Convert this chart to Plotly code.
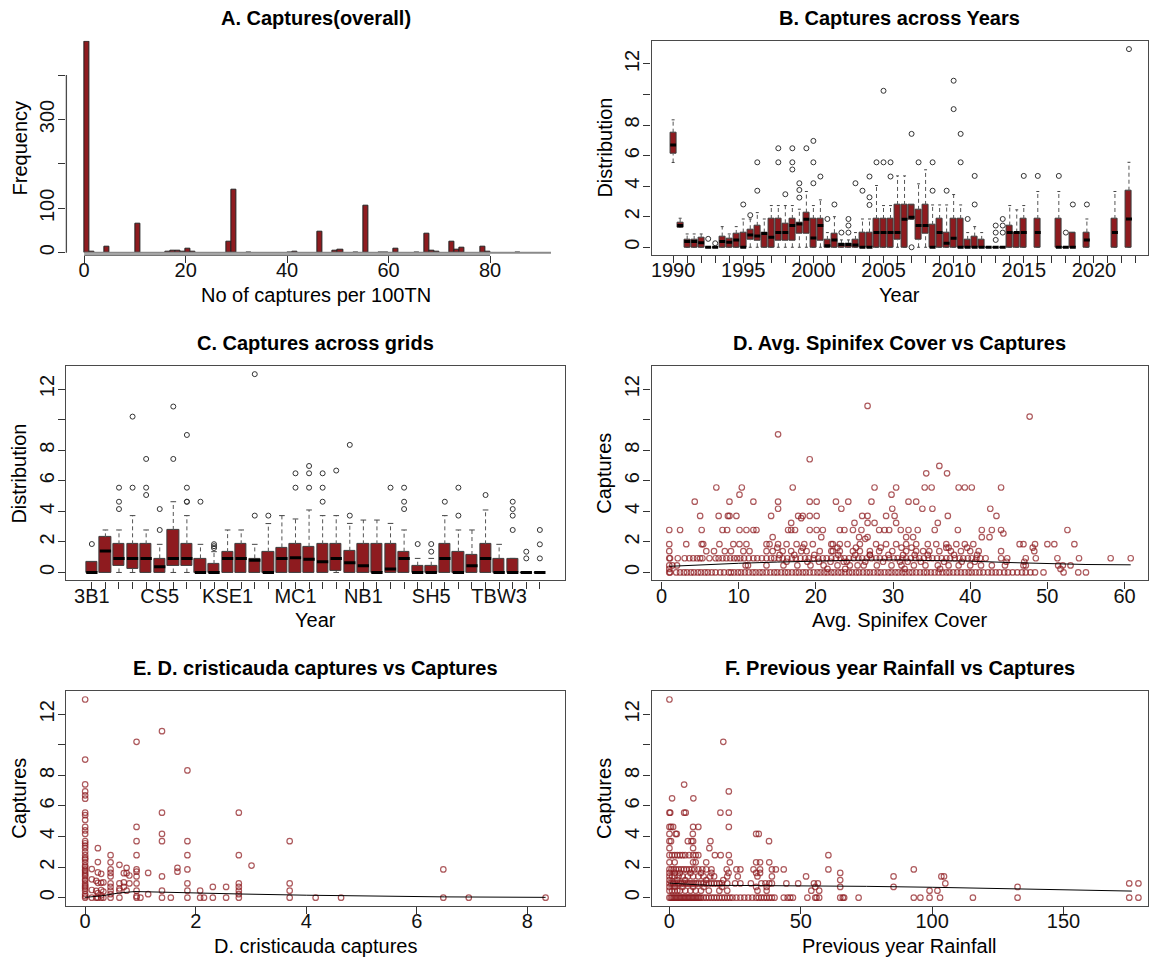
import plotly.graph_objects as go

# ---------------------------------------------------------------- data ----
# A. histogram of captures per 100 trap nights (bins of width 1 from 0 to 92)
hist_bin_left = [0, 1, 4, 10, 16, 17, 18, 19, 20, 21, 28, 29, 32, 40, 41, 46, 49, 50,
                 53, 55, 58, 59, 61, 65, 67, 68, 69, 72, 73, 74, 78, 79, 85]
hist_counts = [476, 2, 13, 65, 2, 4, 5, 2, 9, 2, 24, 141, 1, 1, 3, 47, 5, 6,
               1, 106, 1, 1, 10, 1, 42, 5, 2, 24, 6, 11, 13, 2, 1]
hist_span = [0, 92]
hist_xticks = [0, 20, 40, 60, 80]
hist_yticks = [0, 100, 200, 300, 400]
hist_ylabels = ["0", "100", "", "300", ""]

# B. captures per survey session (box statistics + outliers)
yr_pos = [1990.0, 1990.5, 1991.0, 1991.5, 1992.0, 1992.5, 1993.0, 1993.5, 1994.0, 1994.5,
          1995.0, 1995.5, 1996.0, 1996.5, 1997.0, 1997.5, 1998.0, 1998.5, 1999.0, 1999.5,
          2000.0, 2000.5, 2001.0, 2001.5, 2002.0, 2002.5, 2003.0, 2003.5, 2004.0, 2004.5,
          2005.0, 2005.5, 2006.0, 2006.5, 2007.0, 2007.5, 2008.0, 2008.5, 2009.0, 2009.5,
          2010.0, 2010.5, 2011.0, 2011.5, 2012.0, 2012.5, 2013.0, 2013.5, 2014.0, 2014.5,
          2015.0, 2016.0, 2017.5, 2018.0, 2018.5, 2019.5, 2021.5, 2022.5]
yr_q1 = [6.1, 1.3, 0, 0, 0, 0, 0, 0, 0, 0,
         0, 0.48, 0.44, 0, 0, 0.44, 0.44, 0.44, 0.92, 0.92,
         0, 0.44, 0, 0, 0, 0, 0, 0, 0, 0,
         0, 0, 0.48, 0, 1.83, 0.48, 0.92, 0, 0, 0,
         0, 0, 0, 0, 0, 0, 0, 0, 0, 0,
         0, 0, 0, 0, 0, 0, 0, 0]
yr_med = [6.7, 1.42, 0.37, 0.37, 0.3, 0, 0, 0.37, 0.33, 0.48,
          0, 0.8, 0.74, 0.9, 0.65, 0.96, 0.96, 1.42, 1.53, 1.83,
          0.6, 1.42, 0.1, 0.48, 0.18, 0.18, 0.15, 0, 0, 0.96,
          0.96, 0.96, 0.96, 1.83, 1.96, 1.42, 1.42, 0, 0.96, 0.26,
          0.59, 0, 0, 0, 0, 0, 0, 0, 0.96, 0.96,
          0.96, 0.96, 0, 0, 0, 0.48, 0.96, 1.85]
yr_q3 = [7.5, 1.6, 0.5, 0.48, 0.6, 0, 0, 0.7, 0.55, 0.87,
         0.96, 1.18, 1.4, 0.96, 1.85, 1.85, 1.57, 1.85, 1.6, 2.27,
         1.85, 1.85, 0.48, 0.92, 0.26, 0.26, 0.48, 0.96, 0.96, 1.85,
         1.85, 1.85, 2.77, 2.77, 2.77, 2.45, 2.77, 1.46, 1.85, 0.96,
         1.85, 1.85, 0.48, 0.7, 0.48, 0, 0, 0, 1.42, 0.96,
         1.85, 1.85, 1.85, 0, 0.96, 0.96, 1.85, 3.7]
yr_lo = [5.55, 1.3, 0, 0, 0, 0, 0, 0, 0, 0,
         0, 0, 0, 0, 0, 0, 0, 0, 0, 0,
         0, 0, 0, 0, 0, 0, 0, 0, 0, 0,
         0, 0, 0, 0, 1.83, 0, 0, 0, 0, 0,
         0, 0, 0, 0, 0, 0, 0, 0, 0, 0,
         0, 0, 0, 0, 0, 0, 0, 0]
yr_hi = [8.34, 1.9, 0.87, 0.87, 0.87, 0, 0, 1.35, 0.87, 1.35,
         1.85, 1.85, 2.27, 1.85, 2.73, 2.73, 2.73, 2.73, 2.49, 3.65,
         2.73, 3.1, 0.96, 2.0, 0.48, 0.48, 0.96, 1.85, 1.85, 4.04,
         2.73, 2.73, 4.67, 4.67, 2.77, 4.15, 5.07, 2.77, 2.77, 2.77,
         3.45, 2.77, 0.96, 1.35, 0.96, 0, 0, 0, 2.73, 2.45,
         2.73, 3.65, 3.65, 0, 0.96, 1.85, 3.65, 5.56]
yr_out_x = [1992.5, 1993.0, 1995.0, 1995.5, 1996.0, 1996.0, 1997.5, 1997.5, 1998.0,
            1998.5, 1998.5, 1998.5, 1999.0, 1999.0, 1999.0, 1999.5, 2000.0, 2000.0, 2000.0,
            2000.5, 2001.0, 2001.5, 2002.0, 2002.5, 2002.5, 2002.5, 2003.0, 2003.5,
            2004.0, 2004.0, 2004.0, 2004.5, 2005.0, 2005.0, 2005.5, 2005.5, 2007.0, 2007.0,
            2007.5, 2008.5, 2008.5, 2009.5, 2010.0, 2010.0, 2010.5, 2010.5, 2011.0,
            2011.5, 2011.5, 2013.0, 2013.0, 2013.0, 2013.5, 2013.5, 2013.5, 2015.0,
            2016.0, 2017.5, 2018.0, 2018.5, 2019.5, 2022.5]
yr_out_y = [0.55, 0.26, 2.8, 2.1, 3.7, 5.56, 5.56, 6.48, 3.47,
            5.09, 5.56, 6.48, 3.25, 3.75, 4.19, 6.48, 4.19, 5.56, 6.96,
            4.63, 1.85, 2.8, 0.96, 0.96, 1.42, 1.85, 4.19, 3.7,
            2.77, 3.27, 4.63, 5.56, 5.56, 10.24, 4.63, 5.56, 0, 7.42,
            5.56, 3.7, 5.56, 3.7, 9.04, 10.9, 5.56, 7.42, 1.85,
            2.8, 4.67, 0.48, 0.96, 1.42, 0.96, 1.42, 1.85, 4.67,
            4.67, 4.67, 0.96, 2.8, 2.8, 12.97]
yr_ticks = list(range(1990, 2024))
yr_labels = [str(y) if y % 5 == 0 else "" for y in yr_ticks]

# C. captures per grid (34 grids)
grid_names = ["3B1", "3B2", "3B3", "CS1", "CS2", "CS5", "CS6", "CS7", "KS1", "KS2",
              "KSE1", "KSE2", "KSE3", "MA1", "MA2", "MC1", "MC2", "MC3", "MC4", "MC5",
              "NB1", "NB2", "NB3", "PS1", "SH1", "SH5", "SH6", "SH7", "TBW1", "TBW2",
              "TBW3", "TBW4", "UW1", "UW2"]
grid_labelled = ["3B1", "CS5", "KSE1", "MC1", "NB1", "SH5", "TBW3"]
grid_q1 = [0, 0, 0.44, 0.26, 0, 0, 0.44, 0.44, 0, 0,
           0, 0, 0, 0, 0, 0, 0, 0, 0.1, 0,
           0, 0, 0, 0, 0, 0, 0, 0, 0, 0,
           0, 0, 0, 0]
grid_med = [0, 1.4, 0.92, 0.92, 0.92, 0.37, 0.92, 0.92, 0, 0,
            0.92, 0.92, 0.8, 0, 0.92, 0.96, 0.87, 0.7, 0.92, 0.63,
            0.44, 0, 0.22, 0.92, 0, 0, 0.92, 0, 0.44, 0.92,
            0, 0, 0, 0]
grid_q3 = [0.7, 2.3, 1.84, 1.84, 1.84, 0.92, 2.78, 1.84, 0.92, 0.55,
           1.33, 1.84, 0.92, 1.36, 1.64, 1.84, 1.68, 1.84, 1.84, 1.42,
           1.84, 1.84, 1.84, 1.36, 0.44, 0.44, 1.84, 1.36, 1.14, 1.84,
           0.92, 0.92, 0, 0]
grid_lo = [0] * 34
grid_hi = [0.7, 2.78, 2.78, 3.72, 2.78, 1.84, 4.63, 3.72, 1.84, 1.36,
           2.78, 2.78, 1.84, 3.2, 3.72, 3.5, 4.09, 3.72, 3.72, 3.21,
           3.43, 3.43, 3.21, 2.78, 0.92, 0.92, 3.72, 2.78, 2.78, 4.09,
           1.84, 0.92, 0, 0]
grid_out_i = [1, 3, 3, 3, 4, 4, 5, 5, 5, 6, 6, 7, 7, 8, 8, 8, 8, 9, 10, 10, 10,
              13, 13, 14, 16, 16, 17, 17, 17, 18, 18, 18, 19, 20, 20, 23, 24, 24, 24,
              25, 26, 26, 27, 28, 28, 30, 32, 32, 32, 32, 33, 33, 34, 34, 34]
grid_out_y = [1.86, 4.15, 4.63, 5.55, 5.55, 10.2, 5.07, 5.55, 7.43, 2.78, 4.15, 7.43, 10.86,
              4.63, 4.63, 5.55, 9.0, 4.63, 1.6, 1.72, 1.85,
              3.72, 12.98, 3.72, 5.55, 6.49, 5.55, 6.49, 6.97, 4.63, 5.55, 6.49, 6.67,
              3.72, 8.35, 5.55, 4.15, 4.63, 5.55,
              1.86, 1.36, 1.86, 4.63, 3.72, 5.55, 5.07, 2.78, 3.72, 4.15, 4.63,
              0.92, 1.36, 0.92, 1.84, 2.78]

dist_yticks = [0, 2, 4, 6, 8, 10, 12]
dist_ylabels = ["0", "2", "4", "6", "8", "", "12"]

# D. average spinifex cover vs captures, grouped by capture value
spin_levels = [0.0, 0.23, 0.46, 0.7, 0.93, 1.15, 1.39, 1.62, 1.85, 2.31, 2.78, 3.24, 3.7,
               4.17, 4.63, 5.09, 5.56]
spin_cover = [
    [1.0, 1.1, 1.9, 2.4, 2.9, 3.3, 3.8, 4.2, 4.7, 5.1, 5.6, 6.0, 6.5, 7.0, 7.6, 8.1, 8.7, 9.0,
     9.4, 9.9, 10.3, 10.8, 11.3, 11.8, 12.2, 12.7, 13.1, 13.6, 14.1, 14.6, 15.0, 15.5, 16.0,
     16.4, 16.9, 17.4, 17.8, 18.3, 18.7, 19.2, 19.7, 20.2, 20.6, 21.1, 21.5, 22.0, 22.4, 22.9,
     23.3, 23.8, 24.3, 24.7, 25.2, 25.6, 26.1, 26.6, 27.0, 27.5, 28.0, 28.4, 28.9, 29.4, 29.8,
     30.3, 30.7, 31.2, 31.6, 32.1, 32.5, 33.0, 33.5, 34.0, 34.4, 34.9, 35.4, 35.9, 36.4, 36.9,
     37.3, 37.8, 38.3, 38.8, 39.3, 39.8, 40.2, 40.7, 41.2, 41.7, 42.3, 42.8, 43.3, 43.8, 44.4,
     44.9, 45.5, 46.1, 46.7, 47.2, 47.8, 48.4, 49.5, 52.1, 54.0, 55.0],
    [1.0, 21.5, 23.8, 31.5, 36.1, 51.7],
    [1.0, 1.4, 2.0, 10.9, 11.2, 13.6, 15.8, 17.6, 19.3, 21.0, 22.8, 24.4, 25.4, 26.2, 27.9,
     29.8, 31.1, 32.7, 34.2, 35.8, 37.2, 38.5, 40.0, 41.4, 42.8, 44.5, 46.9, 47.2, 51.4, 52.0, 53.0],
    [16.2, 18.9, 20.4, 21.9, 23.6, 24.0, 26.4, 28.7, 30.9, 31.9, 33.6, 36.6, 38.9, 40.6, 44.7,
     47.0],
    [1.0, 1.1, 2.1, 3.0, 3.6, 4.1, 4.6, 5.0, 5.3, 6.2, 7.0, 7.4, 7.9, 8.4, 8.9, 9.4, 9.8, 10.2,
     10.7, 11.3, 11.9, 12.4, 13.0, 13.6, 14.2, 14.6, 15.2, 15.7, 16.3, 16.9, 17.4, 18.0, 18.6,
     19.1, 19.7, 20.3, 20.9, 21.4, 22.0, 22.6, 23.2, 23.7, 24.3, 24.9, 25.5, 26.0, 26.6, 27.2,
     27.8, 28.3, 28.9, 29.5, 30.1, 30.6, 31.2, 31.7, 32.3, 32.9, 33.4, 34.0, 34.6, 35.1, 35.7,
     36.3, 36.9, 37.4, 38.0, 38.6, 39.1, 39.7, 40.2, 40.8, 41.3, 42.0, 44.0, 44.8, 47.2, 48.5,
     51.3, 54.1, 58.2, 60.8],
    [15.3, 17.2, 19.8, 22.9, 25.1, 27.0, 29.4, 31.3, 32.8, 34.5, 37.9, 40.9],
    [1.0, 5.8, 6.8, 8.2, 9.0, 10.6, 11.4, 13.6, 14.4, 15.7, 16.8, 18.1, 18.8, 20.5, 22.0, 22.2,
     23.1, 24.8, 25.7, 27.0, 28.2, 29.9, 31.7, 33.0, 33.9, 34.7, 36.0, 37.5, 38.8, 40.0, 41.1,
     44.0, 48.3],
    [15.0, 18.3, 22.8, 25.2, 28.4, 31.1, 32.4, 36.9, 37.2, 39.6, 48.1],
    [1.0, 3.2, 5.2, 5.4, 7.5, 9.3, 10.1, 11.0, 13.6, 14.0, 15.1, 16.2, 17.5, 18.5, 19.6, 22.0,
     22.2, 23.1, 24.1, 25.7, 27.8, 29.1, 30.4, 31.7, 33.0, 34.5, 35.6, 36.9, 38.2, 39.3, 40.4,
     46.4, 46.9, 48.4, 50.0, 50.9, 53.5],
    [14.4, 20.7, 25.6, 26.7, 31.7, 32.6, 41.5, 42.5],
    [1.0, 2.4, 5.2, 7.9, 8.5, 10.1, 11.0, 11.9, 12.3, 16.4, 16.8, 17.3, 19.2, 20.1, 20.9, 23.1,
     23.7, 24.8, 25.9, 28.2, 28.9, 29.5, 31.0, 32.0, 33.2, 35.4, 38.4, 41.5, 42.8, 44.0, 52.6],
    [16.8, 25.0, 26.7, 27.6, 30.4, 35.8],
    [5.0, 7.4, 8.6, 8.8, 9.7, 14.2, 17.7, 18.3, 19.2, 20.1, 26.0, 26.7, 29.1, 30.2, 37.1, 43.4],
    [15.1, 23.3, 29.9, 33.8, 35.1, 42.6],
    [4.3, 8.8, 11.9, 15.1, 19.2, 20.1, 22.6, 24.2, 27.2, 32.0, 33.0],
    [10.1, 29.8],
    [7.1, 10.4, 17.0, 27.6, 30.4, 34.1, 35.0, 38.5, 39.3, 40.2, 44.0],
]
spin_extra_cover = [26.7, 47.7, 15.1, 19.2, 36.0, 34.3, 37.0, 27.0, 44.3, 18.1, 26.4]
spin_extra_capt = [10.9, 10.2, 9.04, 7.41, 6.97, 6.49, 6.49, 1.15, 2.55, 3.55, 2.2]
spin_trend_x = [1.0, 5, 10, 15, 20, 25, 30, 35, 40, 45, 50, 55, 60.8]
spin_trend_y = [0.4, 0.5, 0.6, 0.68, 0.75, 0.8, 0.82, 0.8, 0.74, 0.65, 0.57, 0.52, 0.5]

# E. D. cristicauda captures vs captures, grouped by D. cristicauda value
cris_x = [0, 0.12, 0.2, 0.23, 0.29, 0.33, 0.46, 0.62, 0.7, 0.75, 0.8, 0.93, 1.0, 1.14,
          1.39, 1.55, 1.67, 1.85, 2.08, 2.15, 2.31, 2.55, 2.78, 3.01, 3.7, 4.17, 4.63,
          6.48, 6.94, 8.33]
cris_capt = [
    [0, 0.1, 0.23, 0.46, 0.6, 0.7, 0.8, 0.93, 1.1, 1.2, 1.39, 1.5, 1.62, 1.75, 1.85, 2.0,
     2.1, 2.31, 2.5, 2.6, 2.78, 3.0, 3.24, 3.4, 3.56, 3.7, 4.17, 4.4, 4.63, 5.09, 5.4, 5.56,
     6.48, 6.7, 6.95, 7.41, 9.04, 12.97],
    [0, 0.5, 1.2, 1.87],
    [0, 0.45, 1.1],
    [0, 0.3, 0.97, 1.65, 2.33, 3.24],
    [0, 0.15, 0.5, 0.97, 1.56],
    [0, 0.4, 1.0],
    [0, 0.23, 0.46, 0.7, 0.93, 1.39, 1.62, 1.85, 2.31, 2.78],
    [0, 0.46, 0.6, 0.93, 2.15],
    [0.7, 1.0, 1.6],
    [0.46, 1.6, 1.95],
    [0.93, 1.45],
    [0, 0.1, 0.46, 0.93, 1.39, 1.7, 1.85, 2.78, 3.7, 4.63, 10.2],
    [0],
    [0.23, 1.62],
    [0, 0.46, 1.39, 3.7, 4.17, 5.56, 10.9],
    [0],
    [1.7, 1.95],
    [0, 0.46, 0.93, 1.85, 2.78, 3.7, 8.33],
    [0, 0.46],
    [0],
    [0, 0.7],
    [0, 0.7],
    [0, 0.23, 0.46, 0.7, 0.93, 2.78, 5.56],
    [2.1],
    [0, 0.46, 0.93, 3.7],
    [0],
    [0],
    [0, 1.85],
    [0],
    [0],
]
cris_trend_x = [0, 0.3, 0.6, 0.9, 1.4, 2.0, 2.8, 4.0, 5.0, 6.5, 8.33]
cris_trend_y = [0.02, 0.12, 0.3, 0.4, 0.36, 0.3, 0.24, 0.16, 0.1, 0.05, 0.02]

# F. previous year rainfall vs captures, grouped by capture value
rain_levels = [0.0, 0.46, 0.7, 0.93, 1.15, 1.39, 1.62, 1.85, 2.31, 2.78, 3.24, 3.7, 4.17, 4.63, 5.56]
rain_mm = [
    [0, 0.5, 1, 1.5, 2, 2.5, 3, 3.5, 4, 4.5, 5, 5.5, 6, 6.5, 7, 7.5, 8, 8.5, 9, 9.5, 10, 10.5,
     11, 11.5, 12, 13, 14, 15, 16, 17, 18, 19, 20, 21, 22, 23, 24, 25.5, 27, 28.5, 30, 31.5,
     33, 34, 35, 36, 37, 38, 39, 40, 43.5, 45, 46, 47, 52.5, 55.5, 56, 57, 65, 66, 66.5, 72,
     93, 95.5, 99, 103, 115.5, 132.5, 175, 178.5],
    [0, 1, 2, 3, 4, 6, 8, 10, 12, 15, 19, 22, 33.5, 37, 54, 57, 99, 102],
    [0, 2, 5, 9, 13, 20, 33, 37, 55.5, 65, 85.3, 132.5],
    [0, 0.7, 1.4, 2.2, 3, 3.8, 4.6, 5.4, 6.2, 7, 7.8, 8.6, 9.4, 10.2, 11, 12, 13, 14, 15, 16,
     17, 18, 19, 20, 22, 25, 27, 31, 35, 36.5, 38, 39, 44.5, 49, 55, 56.5, 105, 175, 178.5],
    [0, 3, 6, 14, 20.5, 65],
    [0, 1, 2, 3.5, 5, 7, 9, 11, 13, 15.5, 17, 22, 26, 33.5, 39, 52, 85.3, 103.5, 104.5],
    [0, 2, 4, 8, 12, 16, 22.5, 33, 34.5, 65],
    [0, 0.8, 1.6, 2.5, 3.5, 4.5, 5.5, 6.5, 7.5, 8.5, 9.5, 11, 12.5, 14, 16, 21.8, 25.5, 27,
     32, 34.5, 39, 40.5, 43.5, 60.5, 93],
    [0, 2, 9, 10, 14, 23, 33, 34.5, 38],
    [0, 1, 2, 3, 4, 5, 6, 7.5, 9, 10, 11, 17.3, 19.5, 22.6, 60.5],
    [0, 9, 15.2],
    [0, 0.6, 7, 8.4, 9, 15.6, 37.9],
    [0, 2.4, 2.8, 8.9, 33, 34],
    [0, 0.6, 1.4, 9, 11, 22.6],
    [0, 0.3, 5.6, 6.2, 19.4, 22.6],
]
rain_extra_mm = [1.0, 9.1, 5.6, 22.6, 20.5, 0]
rain_extra_capt = [6.5, 6.5, 7.4, 6.95, 10.2, 12.97]
rain_trend_x = [0, 5, 10, 15, 25, 50, 75, 100, 125, 150, 176]
rain_trend_y = [0.95, 0.9, 0.85, 0.8, 0.8, 0.78, 0.74, 0.68, 0.6, 0.52, 0.43]

# ------------------------------------------------------------- styling ----
W, H = 1149, 960
FONT = "Liberation Sans"
RED = "#8E1B1F"
PT_RED = "rgba(142,27,31,0.72)"
FRAME = "#4a4a4a"

COLS = [(65.5, 565.0), (651.7, 1149.0)]          # plot-region edges in pixels
ROWS = [(40.7, 255.2), (365.9, 580.4), (691.1, 905.6)]


def xdom(c):
    return [COLS[c][0] / W, COLS[c][1] / W]


def ydom(r):
    return [1 - ROWS[r][1] / H, 1 - ROWS[r][0] / H]


fig = go.Figure()

# ------------------------------------------------------------ panel A ----
fig.add_trace(go.Scatter(
    x=hist_span, y=[0, 0], mode="lines", line=dict(color="#8a8a8a", width=2),
    xaxis="x", yaxis="y", showlegend=False, hoverinfo="skip"))
fig.add_trace(go.Bar(
    x=[b + 0.5 for b in hist_bin_left], y=hist_counts, width=1,
    marker=dict(color=RED, line=dict(color="#222222", width=1)),
    xaxis="x", yaxis="y", showlegend=False, hoverinfo="skip"))


# ------------------------------------------------------------ box panels --
def add_boxes(xa, ya, pos, q1, med, q3, lo, hi, width, out_x, out_y):
    fig.add_trace(go.Bar(
        x=pos, y=[b - a for a, b in zip(q1, q3)], base=q1, width=width,
        marker=dict(color=RED, line=dict(color="#3c3c3c", width=1)),
        xaxis=xa, yaxis=ya, showlegend=False, hoverinfo="skip"))
    wx, wy, sx, sy, mx, my = [], [], [], [], [], []
    for p, a, m, b, l, h in zip(pos, q1, med, q3, lo, hi):
        if h > b:
            wx += [p, p, None]
            wy += [b, h, None]
        if l < a:
            wx += [p, p, None]
            wy += [l, a, None]
        for v in (l, h):
            sx += [p - width / 4, p + width / 4, None]
            sy += [v, v, None]
        mx += [p - width / 2, p + width / 2, None]
        my += [m, m, None]
    fig.add_trace(go.Scatter(x=wx, y=wy, mode="lines",
                             line=dict(color="#555555", width=1, dash="4px,3px"),
                             xaxis=xa, yaxis=ya, showlegend=False, hoverinfo="skip"))
    fig.add_trace(go.Scatter(x=sx, y=sy, mode="lines", line=dict(color="#444444", width=1),
                             xaxis=xa, yaxis=ya, showlegend=False, hoverinfo="skip"))
    fig.add_trace(go.Scatter(x=mx, y=my, mode="lines", line=dict(color="black", width=3),
                             xaxis=xa, yaxis=ya, showlegend=False, hoverinfo="skip"))
    fig.add_trace(go.Scatter(x=out_x, y=out_y, mode="markers",
                             marker=dict(symbol="circle-open", size=5, color="#333333",
                                         line=dict(width=1)),
                             xaxis=xa, yaxis=ya, showlegend=False, hoverinfo="skip"))


add_boxes("x2", "y2", yr_pos, yr_q1, yr_med, yr_q3, yr_lo, yr_hi, 0.42, yr_out_x, yr_out_y)
grid_pos = list(range(1, len(grid_names) + 1))
add_boxes("x3", "y3", grid_pos, grid_q1, grid_med, grid_q3, grid_lo, grid_hi, 0.83,
          grid_out_i, grid_out_y)


# ------------------------------------------------------------ scatters ----
def add_scatter(xa, ya, xs, ys, tx, ty):
    fig.add_trace(go.Scatter(x=xs, y=ys, mode="markers",
                             marker=dict(symbol="circle-open", size=5.5, color=PT_RED,
                                         line=dict(width=1.2)),
                             xaxis=xa, yaxis=ya, showlegend=False, hoverinfo="skip"))
    fig.add_trace(go.Scatter(x=tx, y=ty, mode="lines", line=dict(color="black", width=1),
                             xaxis=xa, yaxis=ya, showlegend=False, hoverinfo="skip"))


dx, dy = [], []
for lvl, xs in zip(spin_levels, spin_cover):
    dx += xs
    dy += [lvl] * len(xs)
add_scatter("x4", "y4", dx + spin_extra_cover, dy + spin_extra_capt, spin_trend_x, spin_trend_y)

ex, ey = [], []
for xv, ys in zip(cris_x, cris_capt):
    ex += [xv] * len(ys)
    ey += ys
add_scatter("x5", "y5", ex, ey, cris_trend_x, cris_trend_y)

fx, fy = [], []
for lvl, xs in zip(rain_levels, rain_mm):
    fx += xs
    fy += [lvl] * len(xs)
add_scatter("x6", "y6", fx + rain_extra_mm, fy + rain_extra_capt, rain_trend_x, rain_trend_y)

# ---------------------------------------------------------------- axes ----
tickfont = dict(family=FONT, size=20, color="#111111")
base = dict(showgrid=False, zeroline=False, ticks="outside", ticklen=7, tickwidth=1,
            tickcolor="#333333", tickfont=tickfont)
framed = dict(showline=True, mirror=True, linecolor=FRAME, linewidth=1.3)

PXU = {  # pixel position of value 0 (or first position) and pixels per unit
    "A": (83.3, 5.083), "B": (673.3 - 1990 * 14.05, 14.05), "C": (91.0 - 13.6, 13.6),
    "D": (661.7, 7.73), "E": (84.3, 55.37), "F": (669.6, 2.632),
}


def xrange_for(key, c):
    z, s = PXU[key]
    return [(COLS[c][0] - z) / s, (COLS[c][1] - z) / s]


yr_dist = [-0.52, 13.52]
panels = [
    # key, col, row, x-ticks, x-labels, y-range, y-ticks, y-labels, framed
    ("A", 0, 0, hist_xticks, [str(v) for v in hist_xticks], [-5.6, 477.5], hist_yticks, hist_ylabels, False),
    ("B", 1, 0, yr_ticks, yr_labels, yr_dist, dist_yticks, dist_ylabels, True),
    ("C", 0, 1, grid_pos, [n if n in grid_labelled else "" for n in grid_names], yr_dist,
     dist_yticks, dist_ylabels, True),
    ("D", 1, 1, [0, 10, 20, 30, 40, 50, 60], None, yr_dist, dist_yticks, dist_ylabels, True),
    ("E", 0, 2, [0, 2, 4, 6, 8], None, yr_dist, dist_yticks, dist_ylabels, True),
    ("F", 1, 2, [0, 50, 100, 150], None, yr_dist, dist_yticks, dist_ylabels, True),
]

layout_axes = {}
for i, (key, c, r, xt, xl, yrg, yt, yl, fr) in enumerate(panels):
    sfx = "" if i == 0 else str(i + 1)
    xa = dict(base, domain=xdom(c), range=xrange_for(key, c), anchor="y" + sfx,
              tickvals=xt, tickangle=0, ticklabelstandoff=-10)
    if xl is not None:
        xa["ticktext"] = xl
    ya = dict(base, domain=ydom(r), range=yrg, anchor="x" + sfx, tickvals=yt, ticktext=yl,
              tickangle=-90, ticklabelstandoff=-4)
    if fr:
        xa.update(framed)
        ya.update(framed)
    layout_axes["xaxis" + sfx] = xa
    layout_axes["yaxis" + sfx] = ya

# ---------------------------------------------------- titles and labels ----
titles = ["A. Captures(overall)", "B. Captures across Years", "C. Captures across grids",
          "D. Avg. Spinifex Cover vs Captures", "E. D. cristicauda captures vs Captures",
          "F. Previous year Rainfall vs Captures"]
xtitles = ["No of captures per 100TN", "Year", "Year", "Avg. Spinifex Cover",
           "D. cristicauda captures", "Previous year Rainfall"]
ytitles = ["Frequency", "Distribution", "Distribution", "Captures", "Captures", "Captures"]

annotations = []
for i, (key, c, r, *_rest) in enumerate(panels):
    cx = (COLS[c][0] + min(COLS[c][1], COLS[c][0] + 499.3)) / 2 / W
    annotations.append(dict(text="<b>" + titles[i] + "</b>", x=cx, y=1 - (ROWS[r][0] - 23) / H,
                            xref="paper", yref="paper", showarrow=False, xanchor="center",
                            yanchor="middle", font=dict(family=FONT, size=20, color="black")))
    annotations.append(dict(text=xtitles[i], x=cx, y=1 - (ROWS[r][1] + 40) / H,
                            xref="paper", yref="paper", showarrow=False, xanchor="center",
                            yanchor="middle", font=dict(family=FONT, size=20, color="black")))
    annotations.append(dict(text=ytitles[i], x=(COLS[c][0] - 47) / W,
                            y=1 - (ROWS[r][0] + ROWS[r][1]) / 2 / H, textangle=-90,
                            xref="paper", yref="paper", showarrow=False, xanchor="center",
                            yanchor="middle", font=dict(family=FONT, size=20, color="black")))

# axis lines of the histogram span only the tick range
shapes = [
    dict(type="line", xref="x", yref="y domain", x0=hist_xticks[0], x1=hist_xticks[-1],
         y0=0, y1=0, line=dict(color=FRAME, width=1.3)),
    dict(type="line", xref="x domain", yref="y", x0=0, x1=0, y0=hist_yticks[0],
         y1=hist_yticks[-1], line=dict(color=FRAME, width=1.3)),
]

fig.update_layout(
    width=W, height=H, autosize=False,
    margin=dict(l=0, r=0, t=0, b=0),
    paper_bgcolor="white", plot_bgcolor="white",
    font=dict(family=FONT, size=20, color="black"),
    bargap=0, barmode="overlay",
    annotations=annotations, shapes=shapes,
    **layout_axes,
)

fig.write_html("out.html")
